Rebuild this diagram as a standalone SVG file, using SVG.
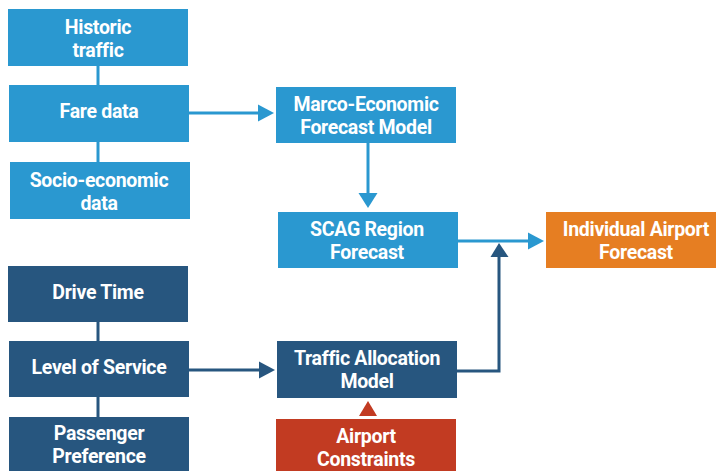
<svg xmlns="http://www.w3.org/2000/svg" width="716" height="471" viewBox="0 0 716 471">
<style>
text{font-family:Roboto,"Open Sans","Liberation Sans",sans-serif;font-weight:700;font-size:19.5px;fill:#fff;text-anchor:middle;letter-spacing:-0.3px}
.lb{fill:#2A98D0}.db{fill:#27567F}.or{fill:#E67E22}.rd{fill:#C23B22}
.cl{stroke:#2A98D0;stroke-width:3;fill:none}.cd{stroke:#27567F;stroke-width:3;fill:none}
</style>
<rect width="716" height="471" fill="#fff"/>
<g id="connectors">
<line class="cl" x1="98" y1="65" x2="98" y2="86"/>
<line class="cl" x1="98" y1="141" x2="98" y2="163"/>
<line class="cl" x1="189" y1="113" x2="260" y2="113"/>
<polygon class="lb" points="258,104.5 274,113 258,121.5"/>
<line class="cl" x1="368" y1="143" x2="368" y2="195"/>
<polygon class="lb" points="358.5,193 377.5,193 368,208"/>
<line class="cl" x1="458" y1="241" x2="530" y2="241"/>
<polygon class="lb" points="528,232.5 544,241 528,249.5"/>
<line class="cd" x1="98" y1="322" x2="98" y2="342"/>
<line class="cd" x1="98" y1="397" x2="98" y2="418"/>
<line class="cd" x1="189" y1="370" x2="261" y2="370"/>
<polygon class="db" points="259,361.5 275,370 259,378.5"/>
<polyline class="cd" points="457,371 499,371 499,255"/>
<polygon class="db" points="490.5,257 508.5,257 499,243"/>
<polygon class="rd" points="359,416 377,416 368,401"/>
</g>
<g id="historic"><rect class="lb" x="8" y="9" width="180" height="57"/><text x="98" y="34">Historic</text><text x="98" y="57">traffic</text></g>
<g id="fare"><rect class="lb" x="9" y="85" width="180" height="57"/><text x="99" y="118">Fare data</text></g>
<g id="socio"><rect class="lb" x="10" y="162" width="180" height="57"/><text x="99" y="187">Socio-economic</text><text x="99" y="210">data</text></g>
<g id="macro"><rect class="lb" x="276" y="87" width="180" height="56"/><text x="366" y="111">Marco-Economic</text><text x="366" y="134">Forecast Model</text></g>
<g id="scag"><rect class="lb" x="278" y="212" width="180" height="56"/><text x="367" y="236">SCAG Region</text><text x="367" y="259">Forecast</text></g>
<g id="individual"><rect class="or" x="546" y="212" width="170" height="56"/><text x="636" y="236">Individual Airport</text><text x="636" y="259">Forecast</text></g>
<g id="drive"><rect class="db" x="8" y="266" width="180" height="56"/><text x="98" y="299">Drive Time</text></g>
<g id="los"><rect class="db" x="9" y="341" width="180" height="56"/><text x="99" y="374">Level of Service</text></g>
<g id="passenger"><rect class="db" x="9" y="417" width="180" height="54"/><text x="99" y="440">Passenger</text><text x="99" y="463">Preference</text></g>
<g id="traffic"><rect class="db" x="277" y="341" width="180" height="57"/><text x="367" y="365">Traffic Allocation</text><text x="367" y="388">Model</text></g>
<g id="constraints"><rect class="rd" x="276" y="419" width="180" height="52"/><text x="366" y="443">Airport</text><text x="366" y="466">Constraints</text></g>
</svg>
